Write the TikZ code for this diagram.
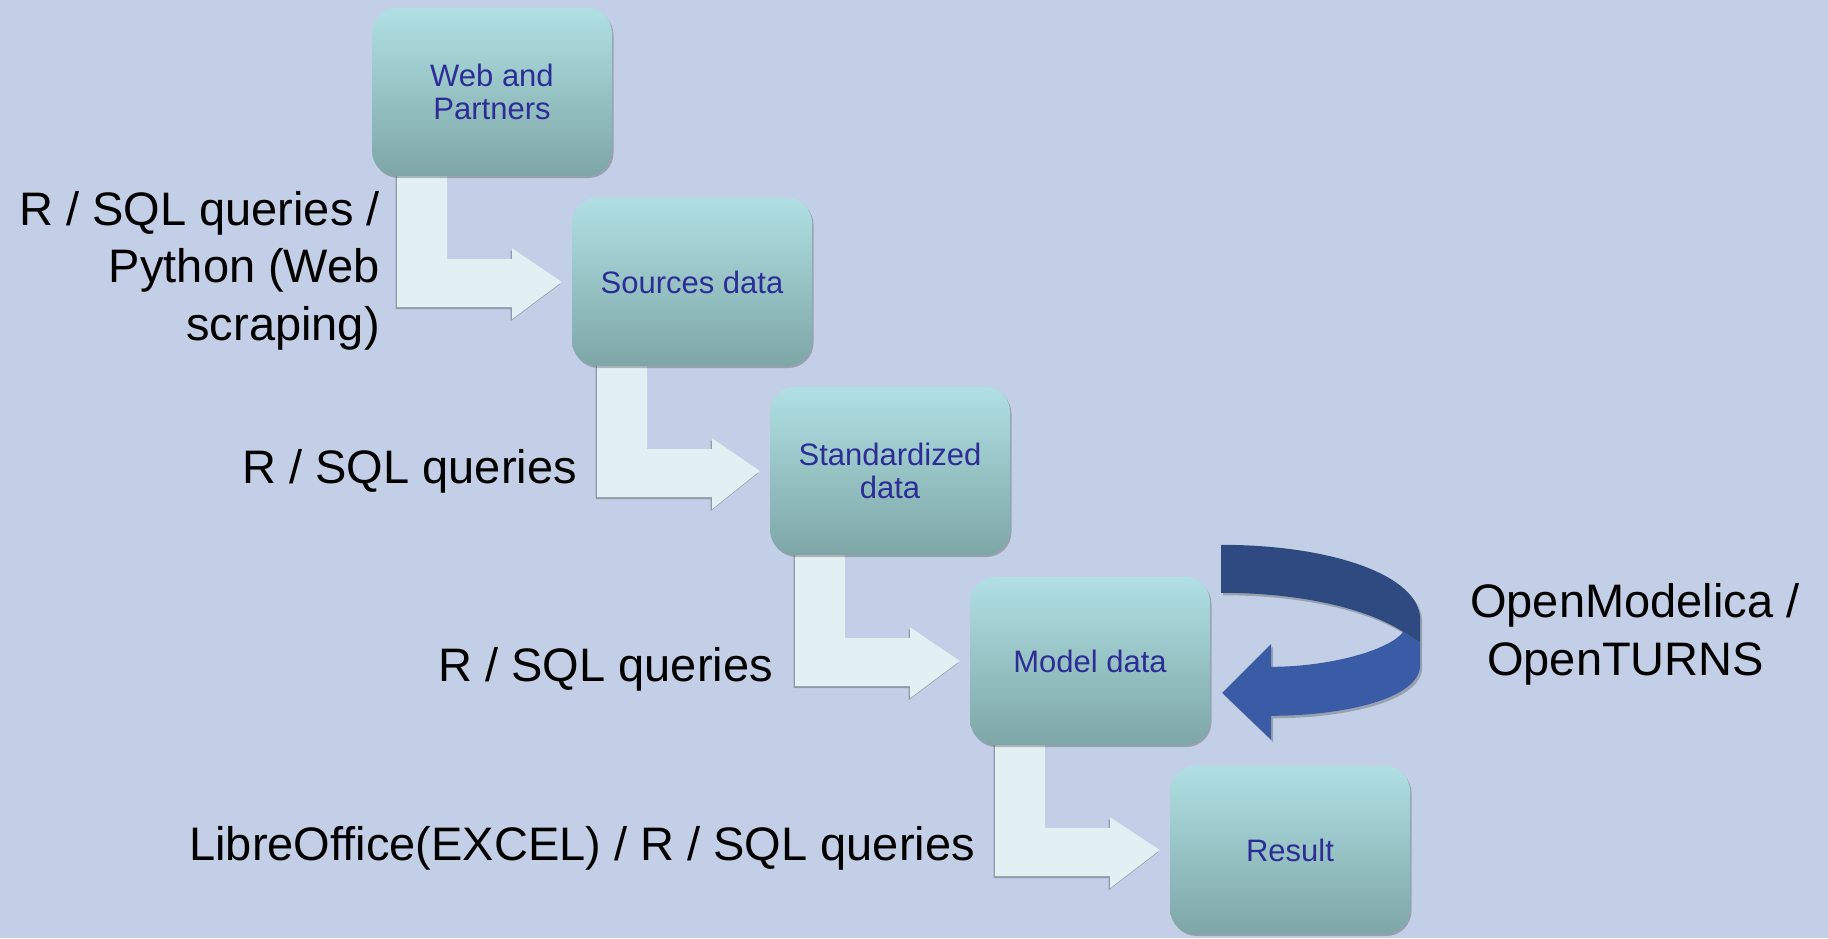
\documentclass[tikz,border=0pt]{standalone}
\usepackage{fontspec}
\setmainfont{Liberation Sans}
\usetikzlibrary{calc,shadows}
\definecolor{bgc}{RGB}{194,207,230}
\definecolor{boxtop}{RGB}{176,224,228}
\definecolor{boxbot}{RGB}{126,166,166}
\definecolor{boxtxt}{RGB}{45,45,150}
\definecolor{arrfill}{RGB}{226,240,244}
\definecolor{curvedark}{RGB}{47,74,128}
\definecolor{curvelight}{RGB}{58,91,165}
\pgfdeclarelayer{bg}
\pgfdeclarelayer{arr}
\pgfsetlayers{bg,arr,main}
\tikzset{
  stepbox/.style={rounded corners=25pt, minimum width=240pt, minimum height=168pt,
    inner sep=0pt, top color=boxtop, bottom color=boxbot, text=boxtxt, align=center,
    font=\fontsize{31}{33}\selectfont,
    drop shadow={shadow xshift=1.5pt, shadow yshift=-2pt, opacity=0.35, fill=black!70}},
  lbl/.style={font=\fontsize{47}{57.5}\selectfont, inner sep=0pt, text=black},
  flow/.style={fill=arrfill, drop shadow={shadow xshift=-1.5pt, shadow yshift=-2pt, opacity=0.4, fill=black!70}},
  loopdark/.style={fill=curvedark, drop shadow={shadow xshift=2pt, shadow yshift=-2.5pt, opacity=0.35, fill=black!70}},
  looplight/.style={fill=curvelight, drop shadow={shadow xshift=2pt, shadow yshift=-2.5pt, opacity=0.35, fill=black!70}},
}
\begin{document}
\begin{tikzpicture}[x=1pt, y=-1pt]
\useasboundingbox (0,0) rectangle (1828,938);
\begin{pgfonlayer}{bg}
  \fill[bgc] (0,0) rectangle (1828,938);
\end{pgfonlayer}

\node[stepbox] (b1) at (492,92)  {Web and\\Partners};
\node[stepbox] (b2) at (692,282) {Sources data};
\node[stepbox] (b3) at (890,471) {Standardized\\data};
\node[stepbox] (b4) at (1090,661) {Model data};
\node[stepbox] (b5) at (1290,850) {Result};

\begin{pgfonlayer}{arr}
\foreach \a/\b in {b1/b2,b2/b3,b3/b4,b4/b5}{
  \fill[flow] ($(\a.south)+(-95,-6)$) -- ($(\a.south)+(-95,131)$) -- ($(\a.south)+(20,131)$)
     -- ($(\a.south)+(20,143)$) -- ($(\b.west)+(-10,0)$) -- ($(\a.south)+(20,72)$)
     -- ($(\a.south)+(20,83)$) -- ($(\a.south)+(-45,83)$) -- ($(\a.south)+(-45,-6)$) -- cycle;
}
\end{pgfonlayer}

\begin{scope}[shift={(b4.north east)}]
  \fill[loopdark] (11,-32) .. controls (120,-32) and (210,-2) .. (210,43) -- (210,66) -- (193,55)
     .. controls (150,28) and (80,16) .. (11,16) -- cycle;
  \fill[looplight] (193,55) -- (210,66) -- (210,88) .. controls (210,123) and (130,139) .. (61,139)
     -- (61,163) -- (12,116) -- (61,67) -- (61,90) .. controls (120,90) and (180,73) .. (193,55) -- cycle;
\end{scope}

\node[lbl, anchor=base east, align=right] (l1) at (380,340) {R / SQL queries /\\Python (Web\\scraping)};
\node[lbl, anchor=base east] (l2) at (577,483) {R / SQL queries};
\node[lbl, anchor=base east] (l3) at (773,681) {R / SQL queries};
\node[lbl, anchor=base east] (l4) at (975,860) {LibreOffice(EXCEL) / R / SQL queries};
\node[lbl, anchor=base west, align=left] (l5) at (1470,675) {OpenModelica /\\\hspace*{17pt}OpenTURNS};
\end{tikzpicture}
\end{document}
